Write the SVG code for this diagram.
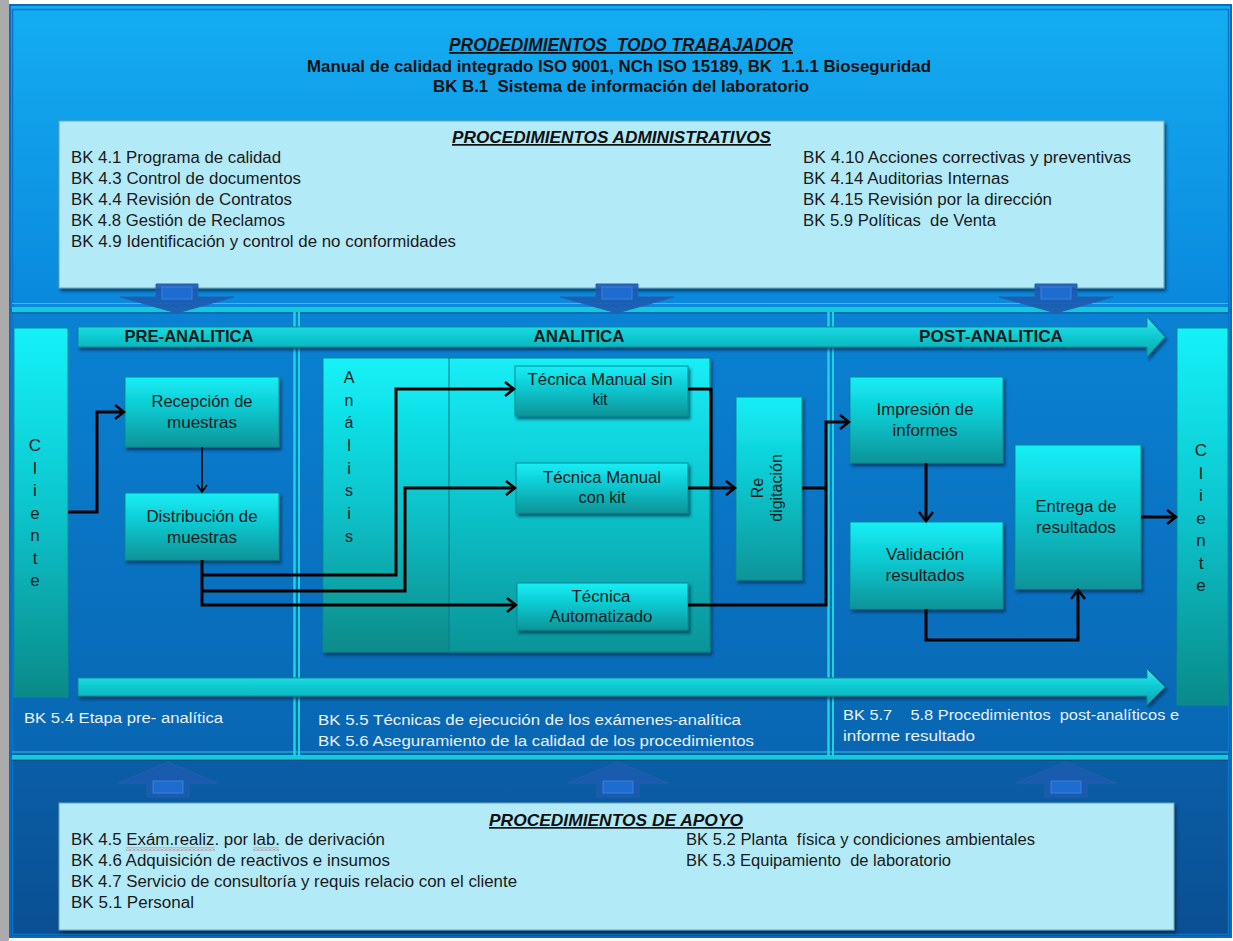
<svg xmlns="http://www.w3.org/2000/svg" width="1233" height="941" viewBox="0 0 1233 941">
  <style>
    text { font-family: "Liberation Sans", Arial, sans-serif; fill: #111; }
    .hd { font-weight: bold; font-style: italic; text-decoration: underline; }
    .b { font-weight: bold; }
    .lst { font-size: 16px; fill: #1a1a1a; }
    .lab { font-size: 15.5px; fill: #e9f1fb; }
    .nt { font-size: 16px; text-anchor: middle; fill: #102020; }
    .vl { font-size: 17px; text-anchor: middle; fill: #102020; }
    .ph { font-size: 16.5px; font-weight: bold; text-anchor: middle; fill: #0a1a1a; }
    .box { fill: url(#gNode); stroke: #0a8c92; stroke-width: 1; filter: url(#shadow); }
    .panel { fill: #b3eaf8; stroke: #6aa4bc; stroke-width: 1; filter: url(#shadow); }
    .bigarrow { fill: #1b5bb0; fill-opacity: 0.92; stroke: #245fb0; stroke-width: 1; }
    .bigarrow-in { fill: #1f6cd0; stroke: #3a82dc; stroke-width: 1; }
    .conn { fill: none; stroke: #000; stroke-width: 3; stroke-linejoin: miter; }
    .conn-thin { fill: none; stroke: #000; stroke-width: 1.6; }
    .div { stroke: #1fd2de; }
  </style>
  <defs>
    <linearGradient id="gTop" x1="0" y1="0" x2="0" y2="1">
      <stop offset="0" stop-color="#14adf2"/>
      <stop offset="1" stop-color="#0a88dc"/>
    </linearGradient>
    <linearGradient id="gMid" x1="0" y1="0" x2="0" y2="1">
      <stop offset="0" stop-color="#0a82d4"/>
      <stop offset="1" stop-color="#0866b2"/>
    </linearGradient>
    <linearGradient id="gBot" x1="0" y1="0" x2="0" y2="1">
      <stop offset="0" stop-color="#0a5ea6"/>
      <stop offset="1" stop-color="#0a4f92"/>
    </linearGradient>
    <linearGradient id="gNode" x1="0" y1="0" x2="0" y2="1">
      <stop offset="0" stop-color="#18eef6"/>
      <stop offset="0.45" stop-color="#0cc8d0"/>
      <stop offset="1" stop-color="#0a9498"/>
    </linearGradient>
    <linearGradient id="gBar" x1="0" y1="0" x2="0" y2="1">
      <stop offset="0" stop-color="#14f2f8"/>
      <stop offset="0.5" stop-color="#0cc4cc"/>
      <stop offset="1" stop-color="#0a8a88"/>
    </linearGradient>
    <linearGradient id="gPhase" x1="0" y1="0" x2="0" y2="1">
      <stop offset="0" stop-color="#4ce8ef"/>
      <stop offset="0.35" stop-color="#13d3db"/>
      <stop offset="1" stop-color="#08a6ae"/>
    </linearGradient>
    <filter id="shadow" x="-10%" y="-10%" width="130%" height="140%">
      <feDropShadow dx="2" dy="3" stdDeviation="1.5" flood-color="#00223c" flood-opacity="0.6"/>
    </filter>
    <marker id="arrow" markerWidth="12" markerHeight="16" refX="10" refY="8" orient="auto" markerUnits="userSpaceOnUse">
      <path d="M1,1 L10,8 L1,15" fill="none" stroke="#000" stroke-width="2.6"/>
    </marker>
    <marker id="arrowThin" markerWidth="10" markerHeight="12" refX="8" refY="6" orient="auto" markerUnits="userSpaceOnUse">
      <path d="M1,1 L8,6 L1,11" fill="none" stroke="#000" stroke-width="1.6"/>
    </marker>
    <pattern id="squiggle" width="4" height="3" patternUnits="userSpaceOnUse">
      <path d="M0,2.5 L2,0.5 L4,2.5" fill="none" stroke="#e02020" stroke-width="0.9"/>
    </pattern>
  </defs>

  <!-- page edge and frame -->
  <rect x="0" y="0" width="1233" height="941" fill="#ffffff"/>
  <rect x="0" y="0" width="9" height="941" fill="#ababab"/>
  <rect x="9" y="4" width="1223" height="934" fill="#0a6cbc"/>
  <rect x="11" y="6" width="1219" height="302" fill="url(#gTop)"/>
  <rect x="11" y="312" width="1219" height="444" fill="url(#gMid)"/>
  <rect x="11" y="760" width="1219" height="176" fill="url(#gBot)"/>
  <rect x="12.5" y="9.5" width="1216" height="925" fill="none" stroke="#0b74c6" stroke-width="1.5"/>

  <!-- band separators -->
  <g id="separators">
    <line x1="12" y1="303.5" x2="1228" y2="303.5" stroke="#26c6dc" stroke-width="1.2"/>
    <rect x="12" y="307" width="1216" height="5" fill="#14c9d8"/>
    <line x1="12" y1="313" x2="1228" y2="313" stroke="#0a5aa0" stroke-width="1"/>
    <line x1="12" y1="752" x2="1228" y2="752" stroke="#26c6dc" stroke-width="1.2"/>
    <rect x="12" y="755" width="1216" height="4.5" fill="#14c9d8"/>
    <line x1="12" y1="760.5" x2="1228" y2="760.5" stroke="#084a88" stroke-width="1"/>
    <line class="div" x1="294.5" y1="312" x2="294.5" y2="756" stroke-width="2.5"/>
    <line class="div" x1="299" y1="312" x2="299" y2="756" stroke-width="2"/>
    <line class="div" x1="828.5" y1="312" x2="828.5" y2="756" stroke-width="2.5"/>
    <line class="div" x1="833" y1="312" x2="833" y2="756" stroke-width="2"/>
  </g>

  <!-- heading -->
  <g id="header">
    <text class="hd" x="621" y="51" font-size="18" text-anchor="middle" textLength="344" lengthAdjust="spacingAndGlyphs" xml:space="preserve">PRODEDIMIENTOS  TODO TRABAJADOR</text>
    <text class="b" x="619" y="72" font-size="17" text-anchor="middle" textLength="624" lengthAdjust="spacingAndGlyphs" xml:space="preserve">Manual de calidad integrado ISO 9001, NCh ISO 15189, BK  1.1.1 Bioseguridad</text>
    <text class="b" x="621" y="92" font-size="17" text-anchor="middle" textLength="376" lengthAdjust="spacingAndGlyphs" xml:space="preserve">BK B.1  Sistema de información del laboratorio</text>
  </g>

  <!-- administrative procedures panel -->
  <g id="admin">
    <rect class="panel" x="59" y="121" width="1105" height="167"/>
    <text class="hd" x="611.5" y="143" font-size="17" text-anchor="middle" textLength="319" lengthAdjust="spacingAndGlyphs">PROCEDIMIENTOS ADMINISTRATIVOS</text>
    <text class="lst" x="71" y="163" textLength="210" lengthAdjust="spacingAndGlyphs">BK 4.1 Programa de calidad</text>
    <text class="lst" x="71" y="184" textLength="230" lengthAdjust="spacingAndGlyphs">BK 4.3 Control de documentos</text>
    <text class="lst" x="71" y="205" textLength="221" lengthAdjust="spacingAndGlyphs">BK 4.4 Revisión de Contratos</text>
    <text class="lst" x="71" y="226" textLength="214" lengthAdjust="spacingAndGlyphs">BK 4.8 Gestión de Reclamos</text>
    <text class="lst" x="71" y="247" textLength="385" lengthAdjust="spacingAndGlyphs">BK 4.9 Identificación y control de no conformidades</text>
    <text class="lst" x="803" y="163" textLength="328" lengthAdjust="spacingAndGlyphs">BK 4.10 Acciones correctivas y preventivas</text>
    <text class="lst" x="803" y="184" textLength="206" lengthAdjust="spacingAndGlyphs">BK 4.14 Auditorias Internas</text>
    <text class="lst" x="803" y="205" textLength="249" lengthAdjust="spacingAndGlyphs">BK 4.15 Revisión por la dirección</text>
    <text class="lst" x="803" y="226" textLength="193" lengthAdjust="spacingAndGlyphs" xml:space="preserve">BK 5.9 Políticas  de Venta</text>
  </g>

  <!-- block arrows from the admin panel down into the process -->
  <g id="down-arrows">
    <path class="bigarrow" d="M156,284 H198 V297 H234 L177,313 L120,297 H156 Z"/>
    <rect class="bigarrow-in" x="162" y="287" width="30" height="12"/>
    <path class="bigarrow" d="M596,284 H638 V297 H674 L617,313 L560,297 H596 Z"/>
    <rect class="bigarrow-in" x="602" y="287" width="30" height="12"/>
    <path class="bigarrow" d="M1035,284 H1077 V297 H1113 L1056,313 L999,297 H1035 Z"/>
    <rect class="bigarrow-in" x="1041" y="287" width="30" height="12"/>
  </g>

  <!-- phase banner arrows -->
  <g id="phase-top">
    <path d="M78,327 H1147 V317 L1165,337 L1147,357 V347 H78 Z" fill="url(#gPhase)" stroke="#0a8a96" stroke-width="1" filter="url(#shadow)"/>
    <text class="ph" x="189" y="342" textLength="129" lengthAdjust="spacingAndGlyphs">PRE-ANALITICA</text>
    <text class="ph" x="579" y="342" textLength="91" lengthAdjust="spacingAndGlyphs">ANALITICA</text>
    <text class="ph" x="991" y="342" textLength="144" lengthAdjust="spacingAndGlyphs">POST-ANALITICA</text>
  </g>
  <g id="phase-bottom">
    <path d="M78,678 H1147 V669 L1165,687 L1147,705 V696 H78 Z" fill="url(#gPhase)" stroke="#0a8a96" stroke-width="1" filter="url(#shadow)"/>
  </g>

  <!-- client bars -->
  <g id="cliente-in">
    <rect x="14" y="328" width="54" height="369" fill="url(#gBar)" stroke="#0a8c92" stroke-width="1"/>
    <text class="vl" x="35" y="451">C</text>
    <text class="vl" x="35" y="474">l</text>
    <text class="vl" x="35" y="496">i</text>
    <text class="vl" x="35" y="519">e</text>
    <text class="vl" x="35" y="541">n</text>
    <text class="vl" x="35" y="564">t</text>
    <text class="vl" x="35" y="586">e</text>
  </g>
  <g id="cliente-out">
    <rect x="1177" y="328" width="51" height="377" fill="url(#gBar)" stroke="#0a8c92" stroke-width="1"/>
    <text class="vl" x="1201" y="456">C</text>
    <text class="vl" x="1201" y="479">l</text>
    <text class="vl" x="1201" y="501">i</text>
    <text class="vl" x="1201" y="524">e</text>
    <text class="vl" x="1201" y="546">n</text>
    <text class="vl" x="1201" y="569">t</text>
    <text class="vl" x="1201" y="591">e</text>
  </g>

  <!-- pre-analytic stage -->
  <g id="recepcion">
    <rect class="box" x="125" y="377" width="154" height="70"/>
    <text class="nt" x="202" y="407" textLength="101" lengthAdjust="spacingAndGlyphs">Recepción de</text>
    <text class="nt" x="202" y="428" textLength="70" lengthAdjust="spacingAndGlyphs">muestras</text>
  </g>
  <g id="distribucion">
    <rect class="box" x="125" y="493" width="154" height="67"/>
    <text class="nt" x="202" y="522" textLength="111" lengthAdjust="spacingAndGlyphs">Distribución de</text>
    <text class="nt" x="202" y="543" textLength="70" lengthAdjust="spacingAndGlyphs">muestras</text>
  </g>

  <!-- analytic stage -->
  <g id="analisis">
    <rect x="323" y="358" width="387" height="294" fill="url(#gBar)" stroke="#0a8c92" stroke-width="1" filter="url(#shadow)"/>
    <rect x="449" y="358" width="261" height="294" fill="url(#gNode)" stroke="#0a7c84" stroke-width="1"/>
    <text class="nt" x="349" y="383">A</text>
    <text class="nt" x="349" y="406">n</text>
    <text class="nt" x="349" y="428">á</text>
    <text class="nt" x="349" y="451">l</text>
    <text class="nt" x="349" y="474">i</text>
    <text class="nt" x="349" y="496">s</text>
    <text class="nt" x="349" y="519">i</text>
    <text class="nt" x="349" y="542">s</text>
  </g>
  <g id="manual-sin-kit">
    <rect class="box" x="515" y="366" width="173" height="50"/>
    <text class="nt" x="600" y="385" textLength="145" lengthAdjust="spacingAndGlyphs">Técnica Manual sin</text>
    <text class="nt" x="600" y="405" textLength="15" lengthAdjust="spacingAndGlyphs">kit</text>
  </g>
  <g id="manual-con-kit">
    <rect class="box" x="516" y="463" width="172" height="50"/>
    <text class="nt" x="602" y="483" textLength="118" lengthAdjust="spacingAndGlyphs">Técnica Manual</text>
    <text class="nt" x="602" y="503" textLength="47" lengthAdjust="spacingAndGlyphs">con kit</text>
  </g>
  <g id="automatizado">
    <rect class="box" x="517" y="583" width="171" height="47"/>
    <text class="nt" x="601" y="602" textLength="59" lengthAdjust="spacingAndGlyphs">Técnica</text>
    <text class="nt" x="601" y="622" textLength="103" lengthAdjust="spacingAndGlyphs">Automatizado</text>
  </g>
  <g id="redigitacion">
    <rect class="box" x="736" y="397" width="66" height="183"/>
    <text class="nt" transform="translate(767,488) rotate(-90)" font-size="15"><tspan x="0" y="-4">Re</tspan><tspan x="0" y="15">digitación</tspan></text>
  </g>

  <!-- post-analytic stage -->
  <g id="impresion">
    <rect class="box" x="850" y="377" width="153" height="86"/>
    <text class="nt" x="925" y="415" textLength="97" lengthAdjust="spacingAndGlyphs">Impresión de</text>
    <text class="nt" x="925" y="436" textLength="65" lengthAdjust="spacingAndGlyphs">informes</text>
  </g>
  <g id="validacion">
    <rect class="box" x="850" y="522" width="153" height="87"/>
    <text class="nt" x="925" y="560" textLength="78" lengthAdjust="spacingAndGlyphs">Validación</text>
    <text class="nt" x="925" y="581" textLength="79" lengthAdjust="spacingAndGlyphs">resultados</text>
  </g>
  <g id="entrega">
    <rect class="box" x="1015" y="445" width="126" height="144"/>
    <text class="nt" x="1076" y="512" textLength="81" lengthAdjust="spacingAndGlyphs">Entrega de</text>
    <text class="nt" x="1076" y="533" textLength="80" lengthAdjust="spacingAndGlyphs">resultados</text>
  </g>

  <!-- flow connectors -->
  <g id="connectors">
    <path class="conn" d="M68,512 H97 V412 H124" marker-end="url(#arrow)"/>
    <path class="conn-thin" d="M202,447 V492" marker-end="url(#arrowThin)"/>
    <path class="conn" d="M202,560 V605 H516" marker-end="url(#arrow)"/>
    <path class="conn" d="M202,575 H396 V389 H514" marker-end="url(#arrow)"/>
    <path class="conn" d="M202,591 H405 V488 H515" marker-end="url(#arrow)"/>
    <path class="conn" d="M688,389 H711 V488"/>
    <path class="conn" d="M688,488 H735" marker-end="url(#arrow)"/>
    <path class="conn" d="M688,605 H826 V422 H849" marker-end="url(#arrow)"/>
    <path class="conn" d="M802,488 H826"/>
    <path class="conn" d="M926,463 V521" marker-end="url(#arrow)"/>
    <path class="conn" d="M926,609 V640 H1078 V590" marker-end="url(#arrow)"/>
    <path class="conn" d="M1141,517 H1176" marker-end="url(#arrow)"/>
  </g>

  <!-- stage references -->
  <g id="stage-notes">
    <text class="lab" x="24" y="723" textLength="199" lengthAdjust="spacingAndGlyphs">BK 5.4 Etapa pre- analítica</text>
    <text class="lab" x="318" y="725" textLength="423" lengthAdjust="spacingAndGlyphs">BK 5.5 Técnicas de ejecución de los exámenes-analítica</text>
    <text class="lab" x="318" y="746" textLength="436" lengthAdjust="spacingAndGlyphs">BK 5.6 Aseguramiento de la calidad de los procedimientos</text>
    <text class="lab" x="843" y="720" textLength="336" lengthAdjust="spacingAndGlyphs" xml:space="preserve">BK 5.7    5.8 Procedimientos  post-analíticos e</text>
    <text class="lab" x="843" y="741" textLength="132" lengthAdjust="spacingAndGlyphs">informe resultado</text>
  </g>

  <!-- block arrows from support panel up into the process -->
  <g id="up-arrows">
    <path class="bigarrow" d="M168,762 L218,783 H189 V797 H147 V783 H118 Z"/>
    <rect class="bigarrow-in" x="153" y="781" width="30" height="12"/>
    <path class="bigarrow" d="M618,762 L668,783 H639 V797 H597 V783 H568 Z"/>
    <rect class="bigarrow-in" x="603" y="781" width="30" height="12"/>
    <path class="bigarrow" d="M1066,762 L1116,783 H1087 V797 H1045 V783 H1016 Z"/>
    <rect class="bigarrow-in" x="1051" y="781" width="30" height="12"/>
  </g>

  <!-- support procedures panel -->
  <g id="apoyo">
    <rect class="panel" x="59" y="803" width="1115" height="127"/>
    <text class="hd" x="616" y="826" font-size="17" text-anchor="middle" textLength="254" lengthAdjust="spacingAndGlyphs">PROCEDIMIENTOS DE APOYO</text>
    <text class="lst" x="71" y="845" textLength="314" lengthAdjust="spacingAndGlyphs">BK 4.5 Exám.realiz. por lab. de derivación</text>
    <rect x="126" y="847.5" width="89" height="3" fill="url(#squiggle)"/>
    <rect x="253" y="847.5" width="26" height="3" fill="url(#squiggle)"/>
    <text class="lst" x="71" y="866" textLength="319" lengthAdjust="spacingAndGlyphs">BK 4.6 Adquisición de reactivos e insumos</text>
    <text class="lst" x="71" y="887" textLength="446" lengthAdjust="spacingAndGlyphs">BK 4.7 Servicio de consultoría y requis relacio con el cliente</text>
    <text class="lst" x="71" y="908" textLength="123" lengthAdjust="spacingAndGlyphs">BK 5.1 Personal</text>
    <text class="lst" x="686" y="845" textLength="349" lengthAdjust="spacingAndGlyphs" xml:space="preserve">BK 5.2 Planta  física y condiciones ambientales</text>
    <text class="lst" x="686" y="866" textLength="265" lengthAdjust="spacingAndGlyphs" xml:space="preserve">BK 5.3 Equipamiento  de laboratorio</text>
  </g>
</svg>
